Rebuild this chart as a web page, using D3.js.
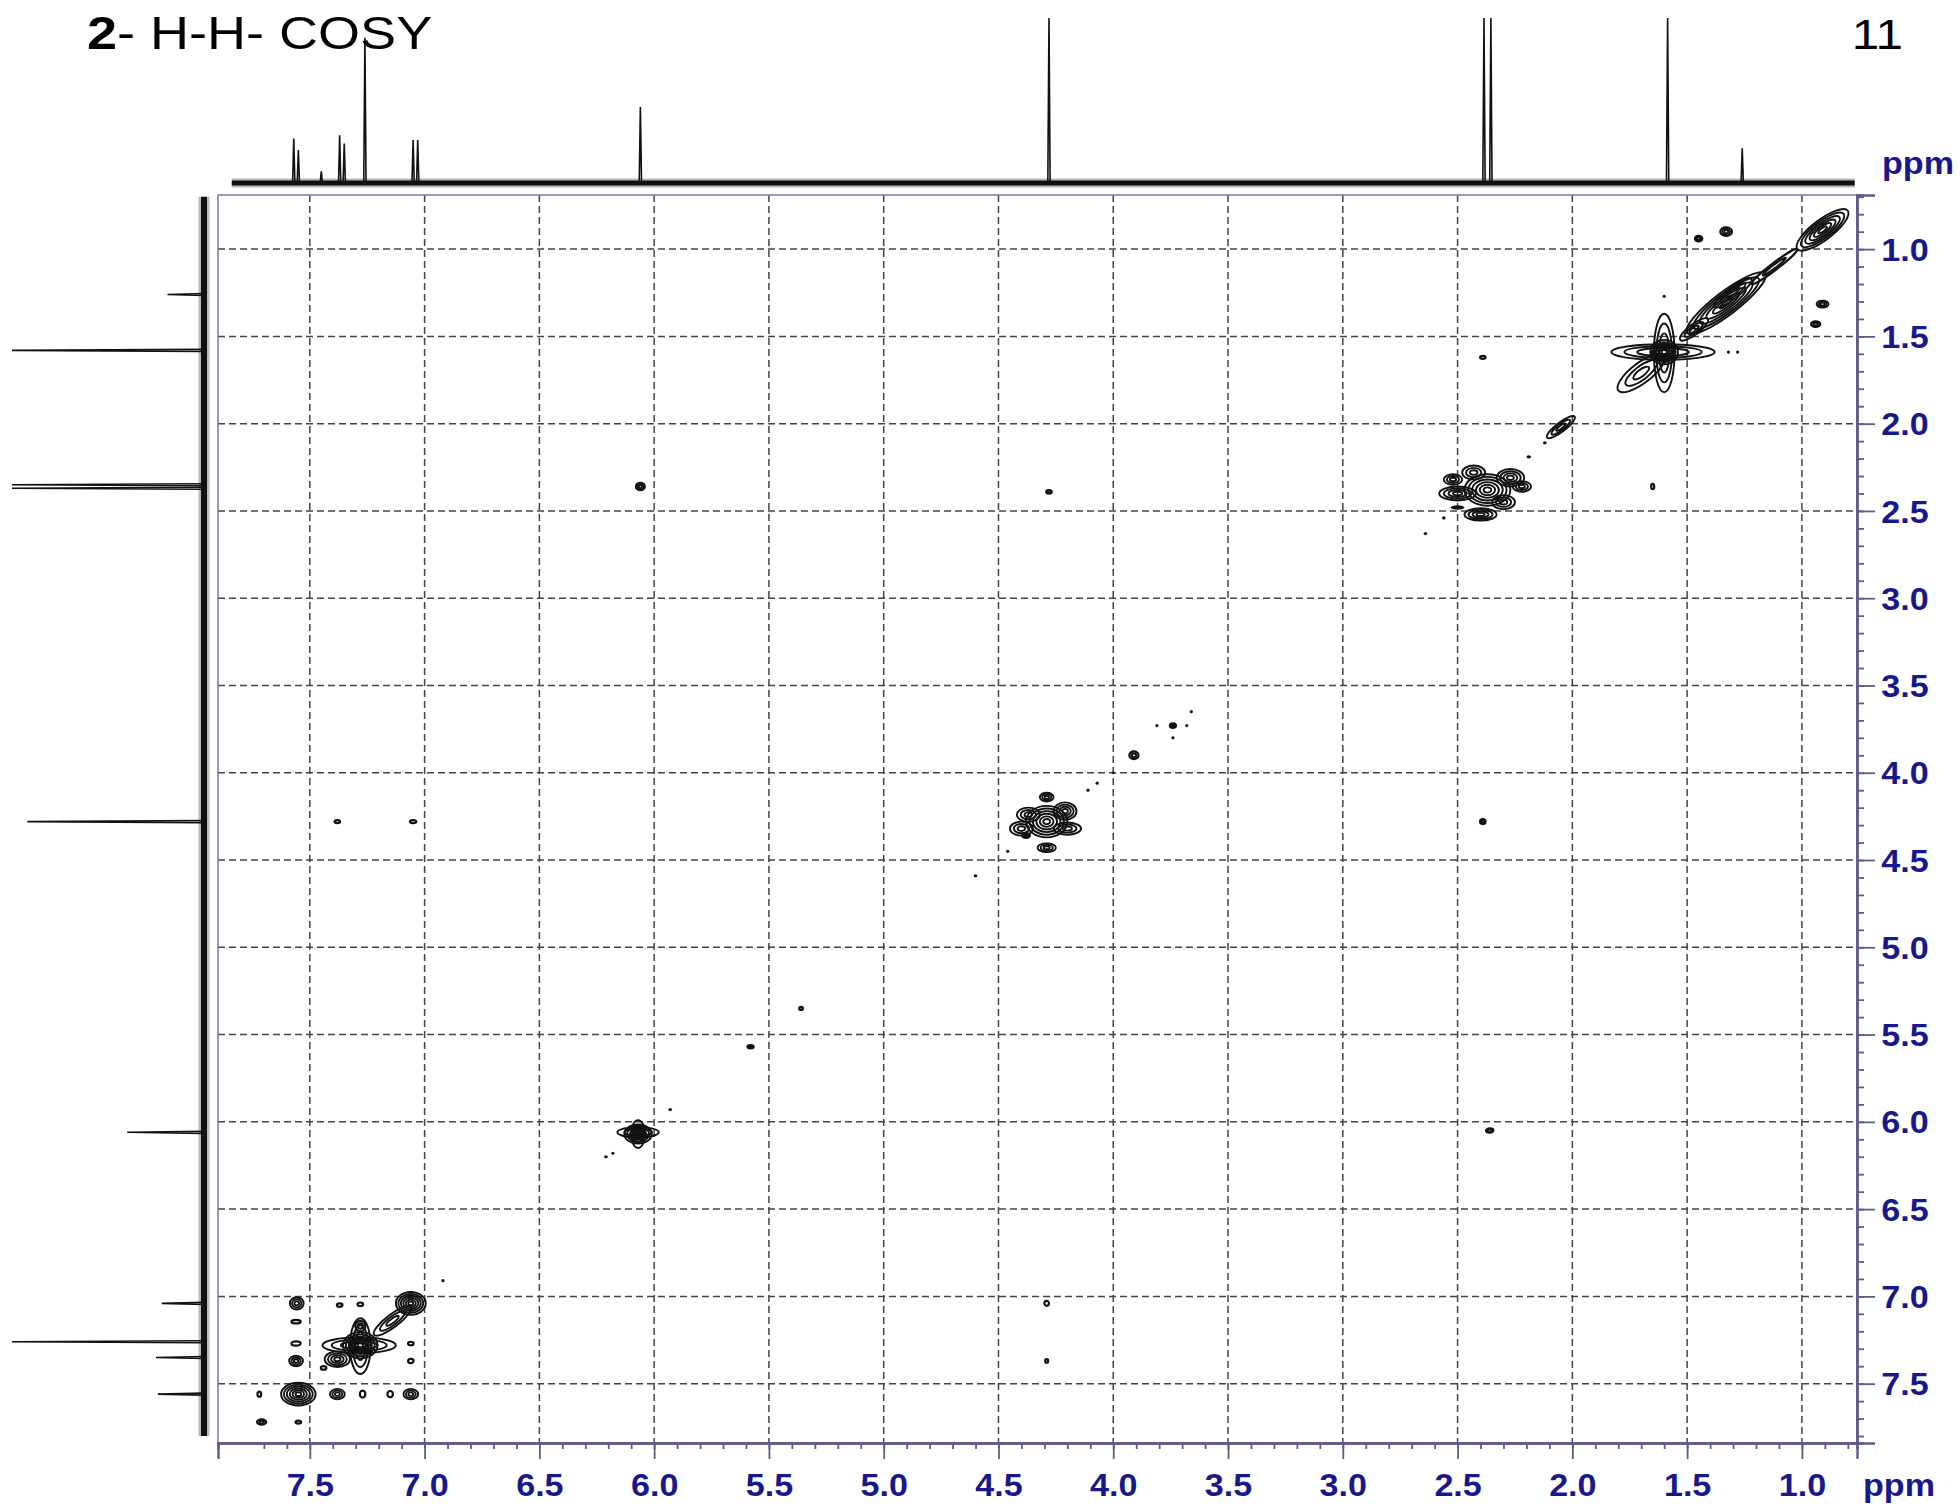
<!DOCTYPE html>
<html>
<head>
<meta charset="utf-8">
<script src="https://cdn.jsdelivr.net/npm/d3@7"></script>
<style>
  body { margin: 0; background: #fff; }
  svg text { font-family: "Liberation Sans", Arial, sans-serif; }
</style>
</head>
<body>
<div id="chart"></div>
<script>
var svgWidth = 1960;
var svgHeight = 1505;

// plot frame (2D map) in page pixels
var frame = { left: 218, right: 1857, top: 195, bottom: 1443 };

// ---- data ----
// visible ppm window of the two axes (x runs right-to-left like NMR)
var xRange = [7.9, 0.76];
var yRange = [0.69, 7.84];
var majorTicks = [7.5, 7.0, 6.5, 6.0, 5.5, 5.0, 4.5, 4.0, 3.5, 3.0, 2.5, 2.0, 1.5, 1.0];

// 1D projection on top: shift (ppm) and intensity (% of panel)
var topShift = [7.57, 7.55, 7.45, 7.37, 7.35, 7.26, 7.05, 7.03, 6.06, 4.28, 2.385, 2.355, 1.585, 1.26];
var topInt   = [27, 20, 7, 29, 24, 88, 26, 26, 46, 130, 130, 130, 130, 21];

// 1D projection on the left
var leftShift = [1.26, 1.58, 2.37, 2.35, 4.28, 6.06, 7.04, 7.26, 7.35, 7.56];
var leftInt   = [19, 130, 130, 130, 92, 40, 22, 130, 25, 24];

// cross peaks: [F2 ppm, F1 ppm, half width F2, half width F1, contour levels, along diagonal]
var crossPeaks = [
  // 0.8 - 1.5 region
  [0.91, 0.89, 0.11, 0.035, 6, 1],
  [1.12, 1.10, 0.10, 0.012, 2, 1],
  [1.33, 1.31, 0.17, 0.04, 6, 1],
  [1.30, 1.25, 0.08, 0.02, 3, 1],
  [1.47, 1.46, 0.06, 0.018, 3, 1],
  [1.45, 0.94, 0.016, 0.016, 2, 0],
  [1.33, 0.90, 0.026, 0.025, 3, 0],
  [0.91, 1.315, 0.026, 0.02, 3, 0],
  [0.94, 1.43, 0.02, 0.016, 2, 0],
  // water 1.58
  [1.60, 1.59, 0.06, 0.07, 5, 0],
  [1.605, 1.59, 0.225, 0.045, 4, 0],
  [1.60, 1.595, 0.045, 0.225, 4, 0],
  [1.70, 1.71, 0.10, 0.035, 3, 1],
  [1.60, 1.27, 0.006, 0.007, 0, 0],
  [1.32, 1.59, 0.006, 0.008, 0, 0],
  [1.28, 1.59, 0.006, 0.008, 0, 0],
  [1.65, 2.36, 0.004, 0.015, 1, 0],
  [2.39, 1.62, 0.012, 0.004, 1, 0],
  // 2.0 - 2.6
  [2.05, 2.02, 0.06, 0.016, 3, 1],
  [2.12, 2.11, 0.008, 0.008, 0, 0],
  [2.19, 2.19, 0.01, 0.008, 0, 0],
  [2.37, 2.38, 0.10, 0.09, 6, 0],
  [2.27, 2.31, 0.06, 0.05, 4, 0],
  [2.50, 2.40, 0.08, 0.04, 4, 0],
  [2.43, 2.28, 0.05, 0.04, 3, 0],
  [2.40, 2.52, 0.07, 0.035, 4, 0],
  [2.30, 2.45, 0.05, 0.04, 3, 0],
  [2.52, 2.32, 0.04, 0.03, 3, 0],
  [2.22, 2.36, 0.04, 0.03, 3, 0],
  [2.50, 2.48, 0.03, 0.012, 0, 0],
  [2.56, 2.54, 0.008, 0.008, 0, 0],
  [2.64, 2.63, 0.008, 0.006, 0, 0],
  // long range
  [6.06, 2.36, 0.02, 0.022, 3, 0],
  [4.28, 2.39, 0.012, 0.01, 2, 0],
  [2.39, 4.28, 0.012, 0.014, 2, 0],
  [2.36, 6.05, 0.016, 0.012, 2, 0],
  // 3.6 - 4.6
  [4.29, 4.28, 0.09, 0.09, 6, 0],
  [4.21, 4.22, 0.05, 0.05, 4, 0],
  [4.37, 4.24, 0.05, 0.04, 3, 0],
  [4.20, 4.32, 0.06, 0.035, 3, 0],
  [4.40, 4.32, 0.05, 0.04, 3, 0],
  [4.29, 4.43, 0.04, 0.025, 3, 0],
  [4.29, 4.14, 0.03, 0.025, 3, 0],
  [4.38, 4.36, 0.022, 0.02, 0, 0],
  [3.74, 3.73, 0.018, 0.02, 0, 0],
  [3.91, 3.90, 0.02, 0.022, 2, 0],
  [4.00, 4.00, 0.007, 0.007, 0, 0],
  [4.07, 4.06, 0.007, 0.007, 0, 0],
  [4.11, 4.10, 0.004, 0.004, 0, 0],
  [3.66, 3.65, 0.005, 0.005, 0, 0],
  [3.81, 3.73, 0.003, 0.006, 0, 0],
  [3.68, 3.73, 0.003, 0.006, 0, 0],
  [3.74, 3.80, 0.004, 0.004, 0, 0],
  [4.46, 4.45, 0.005, 0.005, 0, 0],
  [4.60, 4.59, 0.008, 0.007, 0, 0],
  // 5 - 7
  [5.36, 5.35, 0.008, 0.008, 1, 0],
  [5.58, 5.57, 0.018, 0.016, 0, 0],
  [5.93, 5.93, 0.008, 0.007, 0, 0],
  [6.07, 6.07, 0.06, 0.055, 5, 0],
  [6.07, 6.06, 0.09, 0.03, 3, 0],
  [6.07, 6.07, 0.03, 0.08, 3, 0],
  [6.21, 6.20, 0.008, 0.008, 0, 0],
  [6.18, 6.18, 0.004, 0.004, 0, 0],
  [6.92, 6.91, 0.004, 0.004, 0, 0],
  [7.38, 4.28, 0.012, 0.006, 1, 0],
  [7.05, 4.28, 0.014, 0.007, 1, 0],
  [4.29, 7.04, 0.01, 0.014, 1, 0],
  [4.29, 7.37, 0.006, 0.01, 1, 0],
  // aromatic
  [7.06, 7.04, 0.065, 0.065, 6, 0],
  [7.14, 7.14, 0.08, 0.022, 3, 1],
  [7.557, 7.04, 0.03, 0.035, 3, 0],
  [7.37, 7.05, 0.012, 0.01, 1, 0],
  [7.28, 7.045, 0.012, 0.01, 1, 0],
  [7.56, 7.145, 0.02, 0.01, 1, 0],
  [7.28, 7.17, 0.022, 0.03, 2, 0],
  [7.56, 7.27, 0.02, 0.012, 1, 0],
  [7.28, 7.28, 0.075, 0.075, 6, 0],
  [7.285, 7.28, 0.16, 0.045, 4, 0],
  [7.28, 7.285, 0.045, 0.16, 4, 0],
  [7.06, 7.27, 0.012, 0.01, 1, 0],
  [7.56, 7.37, 0.03, 0.03, 3, 0],
  [7.38, 7.36, 0.055, 0.045, 4, 0],
  [7.06, 7.37, 0.012, 0.012, 1, 0],
  [7.44, 7.41, 0.012, 0.01, 1, 0],
  [7.55, 7.56, 0.075, 0.065, 6, 0],
  [7.72, 7.56, 0.008, 0.015, 1, 0],
  [7.38, 7.56, 0.032, 0.03, 3, 0],
  [7.27, 7.56, 0.012, 0.02, 1, 0],
  [7.15, 7.56, 0.012, 0.018, 1, 0],
  [7.06, 7.56, 0.032, 0.03, 3, 0],
  [7.71, 7.72, 0.02, 0.015, 2, 0],
  [7.55, 7.72, 0.012, 0.006, 1, 0]
];

var axisColor = "#5d5d8c";
var labelColor = "#18188c";

var svg = d3
  .select("#chart")
  .append("svg")
  .attr("width", svgWidth)
  .attr("height", svgHeight);

svg.append("rect")
  .attr("width", svgWidth)
  .attr("height", svgHeight)
  .attr("fill", "#fff");

// scales
var xScale = d3.scaleLinear().domain(xRange).range([frame.left, frame.right]);
var yScale = d3.scaleLinear().domain(yRange).range([frame.top, frame.bottom]);

// 1D panel scales (intensity -> pixel)
var topIntScale = d3.scaleLinear().domain([0, 100]).range([183, 18]).clamp(true);
var leftIntScale = d3.scaleLinear().domain([0, 100]).range([204, 12]).clamp(true);

// dashed grid
var gridGroup = svg.append("g")
  .attr("stroke", "#444")
  .attr("stroke-width", 1.5)
  .attr("stroke-dasharray", "7,4");

gridGroup.selectAll(".vgrid")
  .data(majorTicks)
  .enter()
  .append("line")
  .attr("x1", d => xScale(d))
  .attr("x2", d => xScale(d))
  .attr("y1", frame.top)
  .attr("y2", frame.bottom);

gridGroup.selectAll(".hgrid")
  .data(majorTicks)
  .enter()
  .append("line")
  .attr("y1", d => yScale(d))
  .attr("y2", d => yScale(d))
  .attr("x1", frame.left)
  .attr("x2", frame.right);

// frame
svg.append("rect")
  .attr("x", frame.left)
  .attr("y", frame.top)
  .attr("width", frame.right - frame.left)
  .attr("height", frame.bottom - frame.top)
  .attr("fill", "none")
  .attr("stroke", "#8080a8")
  .attr("stroke-width", 1.6);

// axes: minor ticks every 0.1, major every 0.5
var minorX = d3.range(8, 78).map(d => d / 10).filter(d => d >= 0.8 && d <= 7.85);
var minorY = d3.range(7, 79).map(d => d / 10).filter(d => d >= 0.7 && d <= 7.8);

var xMinorAxis = svg.append("g")
  .attr("transform", `translate(0, ${frame.bottom})`)
  .call(d3.axisBottom(xScale).tickValues(minorX).tickSize(6).tickFormat(""));

var xMajorAxis = svg.append("g")
  .attr("transform", `translate(0, ${frame.bottom})`)
  .call(d3.axisBottom(xScale).tickValues(majorTicks).tickSize(16).tickFormat(d3.format(".1f")));

var yMinorAxis = svg.append("g")
  .attr("transform", `translate(${frame.right}, 0)`)
  .call(d3.axisRight(yScale).tickValues(minorY).tickSize(7).tickFormat(""));

var yMajorAxis = svg.append("g")
  .attr("transform", `translate(${frame.right}, 0)`)
  .call(d3.axisRight(yScale).tickValues(majorTicks).tickSize(18).tickFormat(d3.format(".1f")));

[xMinorAxis, xMajorAxis, yMinorAxis, yMajorAxis].forEach(function(ax) {
  ax.select(".domain")
    .attr("stroke", axisColor)
    .attr("stroke-width", 2.4);
  ax.selectAll(".tick line")
    .attr("stroke", axisColor)
    .attr("stroke-width", 1.8);
});

xMajorAxis.selectAll(".tick text")
  .attr("y", 53)
  .attr("dy", null)
  .attr("transform", "scale(1.1,1)")
  .style("font-size", "31px")
  .style("font-weight", "bold")
  .attr("fill", labelColor);

yMajorAxis.selectAll(".tick text")
  .attr("x", 22)
  .attr("dy", "0.36em")
  .attr("transform", "scale(1.1,1)")
  .style("font-size", "31px")
  .style("font-weight", "bold")
  .attr("fill", labelColor);

// unit labels
svg.append("text")
  .attr("transform", "translate(1882, 174) scale(1.1,1)")
  .style("font-size", "31px")
  .style("font-weight", "bold")
  .attr("fill", labelColor)
  .text("ppm");

svg.append("text")
  .attr("transform", "translate(1863, 1496) scale(1.1,1)")
  .style("font-size", "31px")
  .style("font-weight", "bold")
  .attr("fill", labelColor)
  .text("ppm");

// ---- top 1D trace ----
var topGroup = svg.append("g");

topGroup.append("line")
  .attr("x1", xScale(7.84))
  .attr("x2", xScale(0.77))
  .attr("y1", topIntScale(0))
  .attr("y2", topIntScale(0))
  .attr("stroke", "#777")
  .attr("stroke-width", 9)
  .attr("opacity", 0.5);

topGroup.append("line")
  .attr("x1", xScale(7.84))
  .attr("x2", xScale(0.77))
  .attr("y1", topIntScale(0))
  .attr("y2", topIntScale(0))
  .attr("stroke", "#111")
  .attr("stroke-width", 5);

var topLine = d3.line()
  .x(d => xScale(d[0]))
  .y(d => topIntScale(d[1]));

topGroup.selectAll(".topPeak")
  .data(topShift.map((s, i) => [s, topInt[i]]))
  .enter()
  .append("path")
  .attr("d", d => topLine([[d[0] + 0.005, 0], [d[0], d[1]], [d[0] - 0.005, 0]]))
  .attr("fill", "none")
  .attr("stroke", "#111")
  .attr("stroke-width", 1.6);

// ---- left 1D trace ----
var leftGroup = svg.append("g");

leftGroup.append("line")
  .attr("y1", yScale(0.7))
  .attr("y2", yScale(7.8))
  .attr("x1", leftIntScale(0))
  .attr("x2", leftIntScale(0))
  .attr("stroke", "#777")
  .attr("stroke-width", 11)
  .attr("opacity", 0.5);

leftGroup.append("line")
  .attr("y1", yScale(0.7))
  .attr("y2", yScale(7.8))
  .attr("x1", leftIntScale(0))
  .attr("x2", leftIntScale(0))
  .attr("stroke", "#111")
  .attr("stroke-width", 6);

var leftLine = d3.line()
  .x(d => leftIntScale(d[1]))
  .y(d => yScale(d[0]));

leftGroup.selectAll(".leftPeak")
  .data(leftShift.map((s, i) => [s, leftInt[i]]))
  .enter()
  .append("path")
  .attr("d", d => leftLine([[d[0] - 0.006, 0], [d[0], d[1]], [d[0] + 0.006, 0]]))
  .attr("fill", "none")
  .attr("stroke", "#111")
  .attr("stroke-width", 1.6);

// ---- contours ----
var kx = Math.abs(xScale(1) - xScale(0));
var ky = Math.abs(yScale(1) - yScale(0));
var kd = Math.sqrt(kx * kx + ky * ky);
var diagAngle = Math.atan2(ky, -kx) * 180 / Math.PI;

var peakGroups = svg.append("g")
  .selectAll(".peak")
  .data(crossPeaks)
  .enter()
  .append("g")
  .attr("transform", d => `translate(${xScale(d[0])}, ${yScale(d[1])}) rotate(${d[5] ? diagAngle : 0})`);

peakGroups.each(function(d) {
  var g = d3.select(this);
  var rx = d[5] ? d[2] * kd : d[2] * kx;
  var ry = d[5] ? d[3] * kd : d[3] * ky;
  if (d[4] === 0) {
    g.append("ellipse")
      .attr("rx", Math.max(rx, 1.6))
      .attr("ry", Math.max(ry, 1.6))
      .attr("fill", "#111");
    return;
  }
  for (var k = d[4]; k >= 1; k--) {
    g.append("ellipse")
      .attr("rx", Math.max(rx * k / d[4], 1.5))
      .attr("ry", Math.max(ry * k / d[4], 1.5))
      .attr("fill", "none")
      .attr("stroke", "#111")
      .attr("stroke-width", d[4] > 2 ? 1.9 : 2.2);
  }
});

// ---- titles ----
var title = svg.append("text")
  .attr("transform", "translate(87, 49) scale(1.15,1)")
  .style("font-size", "47px")
  .attr("fill", "#000");
title.append("tspan").style("font-weight", "bold").text("2");
title.append("tspan").text("- H-H- COSY");

svg.append("text")
  .attr("transform", "translate(1903, 49) scale(1.15,1)")
  .attr("text-anchor", "end")
  .style("font-size", "43px")
  .attr("fill", "#000")
  .text("11");
</script>
</body>
</html>
